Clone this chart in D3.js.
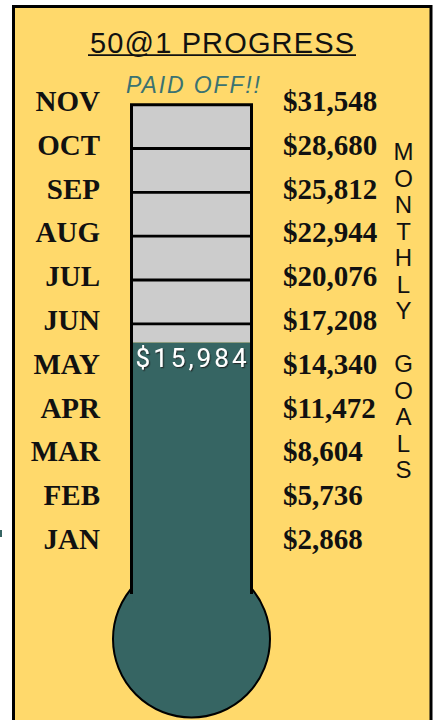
<!DOCTYPE html>
<html>
<head>
<meta charset="utf-8">
<script src="https://cdn.jsdelivr.net/npm/d3@7"></script>
<style>
  html, body { margin: 0; padding: 0; background: #ffffff; }
  svg { display: block; }
</style>
</head>
<body>
<svg id="chart" width="435" height="720"></svg>
<script>
// ---- data ----
const months = ["JAN", "FEB", "MAR", "APR", "MAY", "JUN", "JUL", "AUG", "SEP", "OCT", "NOV"];
const goals = [2868, 5736, 8604, 11472, 14340, 17208, 20076, 22944, 25812, 28680, 31548];
const goalLabels = ["$2,868", "$5,736", "$8,604", "$11,472", "$14,340", "$17,208", "$20,076", "$22,944", "$25,812", "$28,680", "$31,548"];
const currentValue = 15984;
const currentLabel = "$15,984";
const titleText = "50@1 PROGRESS";
const paidOffText = "PAID OFF!!";
const sideText = "MONTHLY GOALS";

// ---- colours ----
const YELLOW = "#FFD96B";
const TEAL = "#366563";
const GRAY = "#CCCCCC";

const svg = d3.select("#chart");

// scale: value -> y
const y = d3.scaleLinear().domain([2868, 31548]).range([542.9, 104.7]);

// frame
svg.append("rect").attr("x", 0).attr("y", 530).attr("width", 2).attr("height", 7).attr("fill", TEAL);
svg.append("rect")
  .attr("x", 13.5).attr("y", 6.5).attr("width", 417.5).attr("height", 730)
  .attr("fill", YELLOW).attr("stroke", "#000").attr("stroke-width", 3);

// title
const title = svg.append("text")
  .attr("x", 222).attr("y", 52.5)
  .attr("text-anchor", "middle")
  .attr("font-family", "Liberation Sans, Arial, sans-serif")
  .attr("font-size", 29)
  .attr("textLength", 264).attr("lengthAdjust", "spacing")
  .attr("fill", "#111")
  .text(titleText);
svg.append("line").attr("x1", 88).attr("x2", 356).attr("y1", 55.2).attr("y2", 55.2)
  .attr("stroke", "#111").attr("stroke-width", 1.8);

// PAID OFF!!
svg.append("text")
  .attr("x", 193).attr("y", 93.3)
  .attr("text-anchor", "middle")
  .attr("font-family", "Liberation Sans, Arial, sans-serif")
  .attr("font-style", "italic")
  .attr("font-size", 23)
  .attr("textLength", 134).attr("lengthAdjust", "spacing")
  .attr("fill", "#3A7272")
  .text(paidOffText);

// thermometer geometry
const tubeL = 131.5, tubeR = 251.5, tubeBottom = 594;
const bulbCx = 191.5, bulbCy = 639, bulbR = 78.5;
const fillY = y(currentValue);

// bulb
svg.append("circle").attr("cx", bulbCx).attr("cy", bulbCy).attr("r", bulbR)
  .attr("fill", TEAL).attr("stroke", "#000").attr("stroke-width", 2);

// gray empty part
svg.append("rect").attr("x", tubeL).attr("y", y(31548)).attr("width", tubeR - tubeL)
  .attr("height", fillY - y(31548)).attr("fill", GRAY);
// teal filled part
svg.append("rect").attr("x", tubeL + 1).attr("y", fillY).attr("width", tubeR - tubeL - 2)
  .attr("height", tubeBottom + 8 - fillY).attr("fill", TEAL);

// divider lines for goals above current level (except top)
svg.selectAll("line.goal")
  .data(goals.filter(g => g > currentValue && g < d3.max(goals)))
  .join("line").attr("class", "goal")
  .attr("x1", tubeL).attr("x2", tubeR)
  .attr("y1", d => y(d)).attr("y2", d => y(d))
  .attr("stroke", "#000").attr("stroke-width", 2.8);

// tube outline
svg.append("path")
  .attr("d", `M${tubeL},${tubeBottom} L${tubeL},${y(31548)} L${tubeR},${y(31548)} L${tubeR},${tubeBottom}`)
  .attr("fill", "none").attr("stroke", "#000").attr("stroke-width", 3);

// current value label with shadow
const defs = svg.append("defs");
const f = defs.append("filter").attr("id", "sh").attr("x", "-10%").attr("y", "-30%").attr("width", "130%").attr("height", "160%");
f.append("feDropShadow").attr("dx", 1.2).attr("dy", 1.2).attr("stdDeviation", 0.6)
  .attr("flood-color", "#222").attr("flood-opacity", 0.8);
svg.append("text")
  .attr("x", 191).attr("y", 366.5)
  .attr("text-anchor", "middle")
  .attr("font-family", "Roboto, sans-serif")
  .attr("font-size", 26)
  .attr("textLength", 111).attr("lengthAdjust", "spacing")
  .attr("fill", "#fff")
  .attr("filter", "url(#sh)")
  .text(currentLabel);

// month labels
svg.selectAll("text.month")
  .data(months)
  .join("text").attr("class", "month")
  .attr("x", 100).attr("y", (d, i) => y(goals[i]) + 6.2)
  .attr("text-anchor", "end")
  .attr("font-family", "Liberation Serif, Times New Roman, serif")
  .attr("font-weight", "bold")
  .attr("font-size", 29)
  .attr("fill", "#111")
  .text(d => d);

// goal labels
svg.selectAll("text.goalLabel")
  .data(goalLabels)
  .join("text").attr("class", "goalLabel")
  .attr("x", 283).attr("y", (d, i) => y(goals[i]) + 6.2)
  .attr("text-anchor", "start")
  .attr("font-family", "Liberation Serif, Times New Roman, serif")
  .attr("font-weight", "bold")
  .attr("font-size", 29)
  .attr("fill", "#111")
  .text(d => d);

// vertical side text
svg.selectAll("text.side")
  .data(sideText.split(""))
  .join("text").attr("class", "side")
  .attr("x", 403.5).attr("y", (d, i) => 160 + i * 26.5)
  .attr("text-anchor", "middle")
  .attr("font-family", "Liberation Sans, Arial, sans-serif")
  .attr("font-size", 24)
  .attr("fill", "#111")
  .text(d => d);
</script>
</body>
</html>
